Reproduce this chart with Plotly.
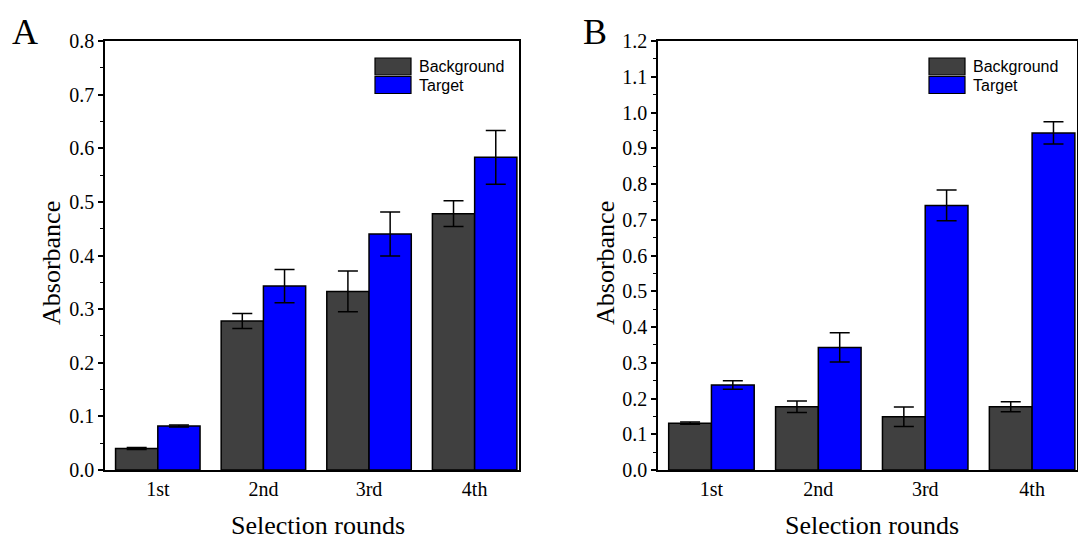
import plotly.graph_objects as go

# Absorbance per selection round, two panels (A and B)
rounds = ["1st", "2nd", "3rd", "4th"]

a_background = [0.040, 0.278, 0.333, 0.478]
a_background_err = [0.002, 0.014, 0.038, 0.024]
a_target = [0.082, 0.343, 0.440, 0.583]
a_target_err = [0.002, 0.031, 0.041, 0.050]

b_background = [0.131, 0.177, 0.149, 0.177]
b_background_err = [0.003, 0.016, 0.027, 0.014]
b_target = [0.238, 0.343, 0.740, 0.943]
b_target_err = [0.012, 0.041, 0.043, 0.031]

series_names = ["Background", "Target"]
series_colors = ["#404040", "#0000FF"]

W, H = 1078, 540


def px(x):
    return x / W


def py(y):
    return 1 - y / H


serif = "Liberation Serif"
sans = "Liberation Sans"

fig = go.Figure()

panels = [
    ("x", "y", [a_background, a_target], [a_background_err, a_target_err]),
    ("x2", "y2", [b_background, b_target], [b_background_err, b_target_err]),
]
for xa, ya, vals, errs in panels:
    for name, color, v, e in zip(series_names, series_colors, vals, errs):
        fig.add_trace(go.Bar(
            x=rounds, y=v, name=name, xaxis=xa, yaxis=ya,
            marker=dict(color=color, line=dict(color="black", width=1.5)),
            error_y=dict(type="data", array=e, visible=True,
                         color="black", thickness=1.5, width=10),
            showlegend=False,
        ))

top, bottom = 41, 470
a_left, a_right = 105, 519
b_left, b_right = 658, 1077

axis_common = dict(showline=True, linecolor="black", linewidth=1.5, mirror=True,
                   showgrid=False, zeroline=False, automargin=False)
xcommon = dict(axis_common, ticks="", range=[-0.5, 3.42],
               tickfont=dict(family=serif, size=20, color="black"))
ycommon = dict(axis_common, ticks="outside", ticklen=5, tickwidth=1.5,
               tickcolor="black", dtick=0.1, tick0=0, tickformat=".1f",
               tickfont=dict(family=serif, size=20, color="black"),
               minor=dict(ticks="outside", ticklen=3, tickwidth=1.2,
                          tickcolor="black", dtick=0.05))

fig.update_layout(
    width=W, height=H, autosize=False,
    margin=dict(l=0, r=0, t=0, b=0, pad=0, autoexpand=False),
    paper_bgcolor="white", plot_bgcolor="white",
    barmode="group", bargap=0.2, bargroupgap=0,
    showlegend=False,
    xaxis=dict(xcommon, domain=[px(a_left), px(a_right)], anchor="y"),
    yaxis=dict(ycommon, domain=[py(bottom), py(top)], anchor="x", range=[0, 0.8]),
    xaxis2=dict(xcommon, domain=[px(b_left), px(b_right)], anchor="y2"),
    yaxis2=dict(ycommon, domain=[py(bottom), py(top)], anchor="x2", range=[0, 1.2]),
)

annotations = []
shapes = []

# Panel letters and axis titles
for letter, lx, ytx, xtx in [("A", 25, 51, 318), ("B", 595, 605, 872)]:
    annotations.append(dict(text=letter, x=px(lx), y=py(32), xref="paper", yref="paper",
                            showarrow=False, font=dict(family=serif, size=36, color="black"),
                            xanchor="center", yanchor="middle"))
    annotations.append(dict(text="Absorbance", x=px(ytx), y=py(263), xref="paper", yref="paper",
                            showarrow=False, textangle=-90,
                            font=dict(family=serif, size=26, color="black"),
                            xanchor="center", yanchor="middle"))
    annotations.append(dict(text="Selection rounds", x=px(xtx), y=py(525), xref="paper", yref="paper",
                            showarrow=False, font=dict(family=serif, size=26, color="black"),
                            xanchor="center", yanchor="middle"))

# Legend boxes drawn as swatches with labels
for sx in [375, 929]:
    for i, (name, color) in enumerate(zip(series_names, series_colors)):
        y0 = 58 + i * 18.5
        shapes.append(dict(type="rect", xref="paper", yref="paper",
                           x0=px(sx), x1=px(sx + 36), y0=py(y0 + 17), y1=py(y0),
                           fillcolor=color, line=dict(color="black", width=1.2)))
        annotations.append(dict(text=name, x=px(sx + 42), y=py(y0 + 8.5), xref="paper", yref="paper",
                                showarrow=False, xanchor="left", yanchor="middle",
                                font=dict(family=sans, size=16, color="black")))

fig.update_layout(annotations=annotations, shapes=shapes)

fig.write_html("out.html")
